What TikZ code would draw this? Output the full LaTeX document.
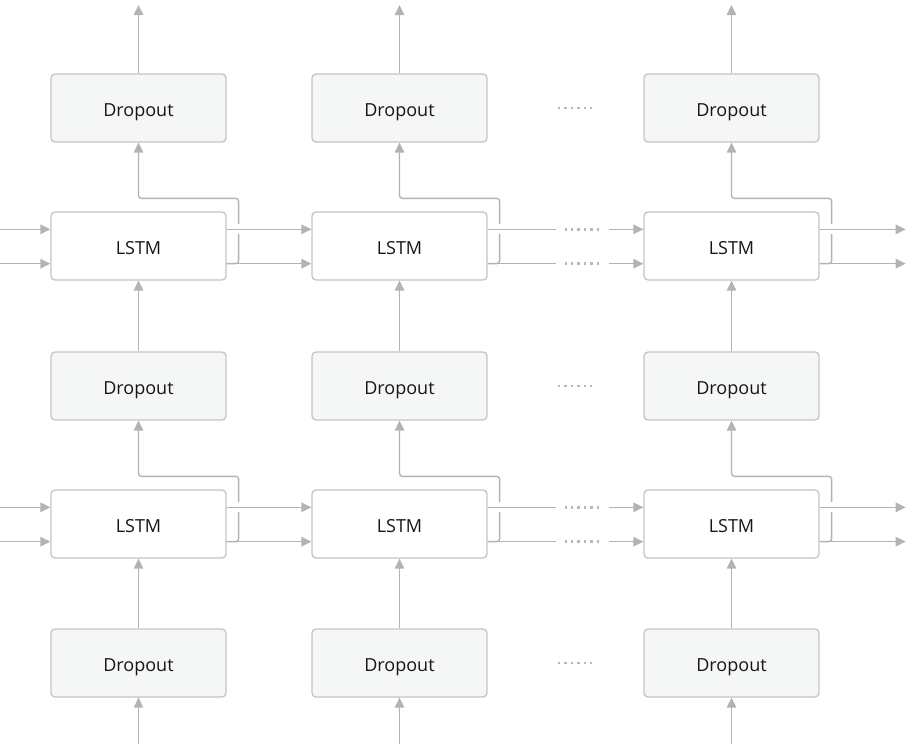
\documentclass[tikz,border=0pt]{standalone}
\usepackage{fontspec}
\setmainfont{Open Sans}
\usetikzlibrary{arrows.meta,calc}
\definecolor{ln}{HTML}{B3B3B3}
\definecolor{bd}{HTML}{C4C4C4}
\definecolor{dfill}{HTML}{F5F6F6}
\definecolor{txt}{HTML}{161616}
\definecolor{dotc}{HTML}{B8B8B8}
\begin{document}
\begin{tikzpicture}[x=1pt,y=-1pt,
 box/.style={draw=bd, line width=1.3pt, rounded corners=4pt, minimum width=175pt, minimum height=68pt, inner sep=0pt, text height=17pt, text depth=0pt, text=txt, font=\fontsize{18}{20}\selectfont},
 dropbox/.style={box, fill=dfill},
 lstmbox/.style={box, fill=white},
 conn/.style={draw=ln, line width=1.4pt},
 arr/.style={conn, -{Triangle[length=10pt,width=9.5pt]}},
 dotline/.style={draw=dotc, line width=2.6pt, dash pattern=on 2.4pt off 4pt},
 gap/.style={fill=white, draw=none}
]
\useasboundingbox (0,0) rectangle (909,744);
\foreach \c/\x in {1/138.5,2/399.5,3/731.5}{
  \node[dropbox] (d1\c) at (\x,108) {Dropout};
  \node[lstmbox] (l1\c) at (\x,246) {LSTM};
  \node[dropbox] (d2\c) at (\x,386) {Dropout};
  \node[lstmbox] (l2\c) at (\x,524) {LSTM};
  \node[dropbox] (d3\c) at (\x,663) {Dropout};
  \coordinate (t\c) at (\x,5);
  \coordinate (b\c) at (\x,744);
  \draw[arr] (d1\c.north) -- (t\c);
  \draw[arr] (b\c) -- (d3\c.south);
  \draw[arr] (d3\c.north) -- (l2\c.south);
  \draw[arr] (d2\c.north) -- (l1\c.south);
  % LSTM to dropout above
  \draw[arr, rounded corners=3pt] ($(l2\c.south east)+(0,-17)$) -| ($(l2\c.north east)+(12,-13)$) -| (d2\c.south);
  \draw[arr, rounded corners=3pt] ($(l1\c.south east)+(0,-17)$) -| ($(l1\c.north east)+(12,-13)$) -| (d1\c.south);
  \fill[gap] ($(l2\c.north east)+(9,13)$) rectangle ($(l2\c.north east)+(15,23)$);
  \fill[gap] ($(l1\c.north east)+(9,13)$) rectangle ($(l1\c.north east)+(15,23)$);
}
\foreach \r in {1,2}{
  % inputs on the left
  \coordinate (inA\r) at ($(l\r1.north west)+(-51,18)$);
  \coordinate (inB\r) at ($(l\r1.south west)+(-51,-17)$);
  \draw[arr] (inA\r) -- ($(l\r1.north west)+(0,18)$);
  \draw[arr] (inB\r) -- ($(l\r1.south west)+(0,-17)$);
  % col1 -> col2
  \draw[arr] ($(l\r1.north east)+(0,18)$) -- ($(l\r2.north west)+(0,18)$);
  \draw[arr] ($(l\r1.south east)+(0,-17)$) -- ($(l\r2.south west)+(0,-17)$);
  % col2 -> ... -> col3
  \coordinate (pA\r) at ($(l\r2.north east)+(68,18)$);
  \coordinate (qA\r) at ($(l\r3.north west)+(-34,18)$);
  \coordinate (pB\r) at ($(l\r2.south east)+(68,-17)$);
  \coordinate (qB\r) at ($(l\r3.south west)+(-34,-17)$);
  \draw[conn] ($(l\r2.north east)+(0,18)$) -- (pA\r);
  \draw[conn] ($(l\r2.south east)+(0,-17)$) -- (pB\r);
  \draw[dotline] ($(pA\r)+(9,0)$) -- ($(qA\r)+(-10,0)$);
  \draw[dotline] ($(pB\r)+(9,0)$) -- ($(qB\r)+(-10,0)$);
  \draw[arr] (qA\r) -- ($(l\r3.north west)+(0,18)$);
  \draw[arr] (qB\r) -- ($(l\r3.south west)+(0,-17)$);
  % outputs on the right
  \coordinate (oA\r) at ($(l\r3.north east)+(86,18)$);
  \coordinate (oB\r) at ($(l\r3.south east)+(86,-17)$);
  \draw[arr] ($(l\r3.north east)+(0,18)$) -- (oA\r);
  \draw[arr] ($(l\r3.south east)+(0,-17)$) -- (oB\r);
}
% dots between dropout columns 2 and 3
\foreach \y in {108,386,663}{
  \draw[dotline] (558,\y) -- (594,\y);
}
\end{tikzpicture}
\end{document}
